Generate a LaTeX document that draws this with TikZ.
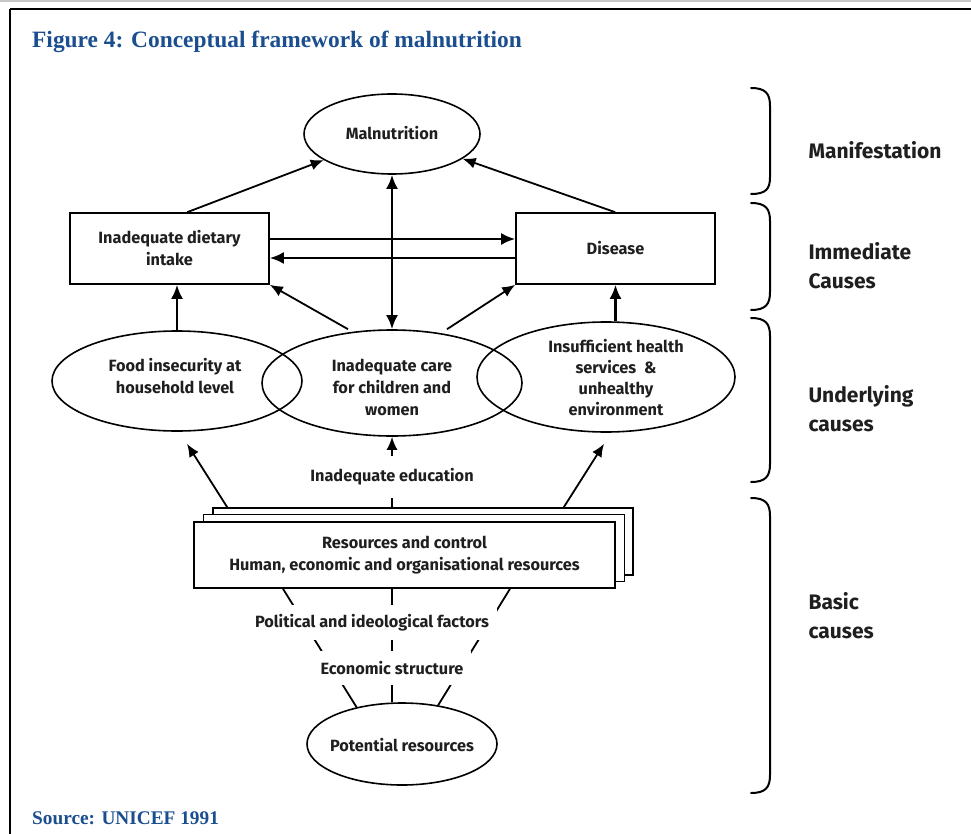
\documentclass[tikz,border=0pt]{standalone}
\usepackage{fontspec}
\setmainfont{Fira Sans}
\newfontfamily\titlefont{Liberation Serif}
\usetikzlibrary{shapes.geometric,arrows.meta}
\definecolor{figblue}{RGB}{26,78,143}
\begin{document}
\begin{tikzpicture}[x=1pt,y=-1pt,
  txt/.style={font=\bfseries\fontsize{16.3}{22}\selectfont, align=center, text=black!88},
  ell/.style={ellipse, draw, line width=1.6pt, inner sep=0pt},
  box/.style={rectangle, draw, line width=1.6pt, fill=white, inner sep=0pt},
  arr/.style={line width=1.8pt, -{Latex[length=13pt,width=11pt]}},
  thickarr/.style={line width=2.6pt, -{Latex[length=14pt,width=12pt]}},
  dblarr/.style={line width=2.6pt, {Latex[length=14pt,width=12pt]}-{Latex[length=14pt,width=12pt]}},
  fan/.style={line width=1.8pt},
  gaplbl/.style={txt, fill=white, inner xsep=8pt, inner ysep=0pt},
  level/.style={font=\bfseries\fontsize{21}{29}\selectfont, align=left, anchor=west, text=black!88},
  brace/.style={line width=2pt, line cap=round},
  heading/.style={font=\titlefont\bfseries, text=figblue, inner sep=0pt, anchor=base west}
]
\useasboundingbox (0,0) rectangle (971,834);
\fill[white] (0,0) rectangle (971,834);

% page frame
\draw[gray!45, line width=2pt] (0,1) -- (971,1);
\draw[line width=1.4pt] (10,9) -- (971,9);
\draw[line width=1.4pt] (10,9) -- (10,834);

% headings
\node[heading, font=\titlefont\bfseries\fontsize{23.4}{27}\selectfont] (title) at (32,48)
  {Figure 4: Conceptual framework of malnutrition};
\node[heading, font=\titlefont\bfseries\fontsize{19.3}{22}\selectfont] (source) at (32,824)
  {Source: UNICEF 1991};

% manifestation
\node[ell, minimum width=176, minimum height=80] (mal) at (392,134) {};
\node[txt] (maltxt) at (392,133) {Malnutrition};

% immediate causes
\node[box, txt, minimum width=199, minimum height=71] (diet) at (169.5,248.5)
  {Inadequate dietary\\intake};
\node[box, txt, minimum width=199, minimum height=71] (dis) at (615.5,248.5) {Disease};

% underlying causes
\node[ell, minimum width=250, minimum height=100] (food) at (177,381) {};
\node[ell, minimum width=260, minimum height=106] (care) at (392,383) {};
\node[ell, minimum width=258, minimum height=110] (health) at (606,377) {};
\node[txt] (foodtxt) at (175,376) {Food insecurity at\\household level};
\node[txt] (caretxt) at (392,387) {Inadequate care\\for children and\\women};
\node[txt, font=\bfseries\fontsize{16.3}{21}\selectfont] (healthtxt) at (616,378)
  {Insufficient health\\services \ \& \\unhealthy\\environment};

% basic causes: stacked resource boxes
\node[box, minimum width=420, minimum height=67] (res3) at (423,541.5) {};
\node[box, minimum width=421, minimum height=67] (res2) at (414,548) {};
\node[box, txt, minimum width=421, minimum height=66] (res) at (404.5,555)
  {Resources and control\\Human, economic and organisational resources};
\node[ell, minimum width=190, minimum height=82] (pot) at (402,744) {};
\node[txt] (pottxt) at (402,745) {Potential resources};

% connectors towards malnutrition
\draw[arr] ([xshift=118]diet.north west) -- (mal);
\draw[arr] ([xshift=100]dis.north west) -- (mal);
\draw[dblarr] (care.north) -- (mal.south);
\draw[thickarr] ([yshift=9.5]diet.east) -- ([yshift=9.5]dis.west);
\draw[thickarr] ([yshift=-9.5]dis.west) -- ([yshift=-9.5]diet.east);

% underlying to immediate
\draw[thickarr] (food.north) -- (food.north |- diet.south);
\draw[thickarr] (dis.south |- health.north) -- (dis.south);
\draw[arr] ([xshift=-44]care.north) -- (diet.south east);
\draw[arr] ([xshift=55]care.north) -- (dis.south west);

% basic to underlying
\draw[arr] ([xshift=15]res3.north west) -- ([xshift=10,yshift=-12]food.south);
\draw[arr] (care.south |- res3.north) -- (care.south);
\draw[arr] ([xshift=-70]res3.north east) -- ([xshift=-2,yshift=-11]health.south);

% potential resources up to the resource boxes
\draw[fan] ([xshift=-121.5]res.south) -- (pot.141);
\draw[fan] ([xshift=-12.5]res.south) -- ([xshift=-10]pot.north);
\draw[fan] ([xshift=105.5]res.south) -- (pot.47);

% labels sitting on the connectors
\node[gaplbl, minimum height=42] (edu) at (392,477) {Inadequate education};
\node[gaplbl, minimum height=35] (pol) at (372,622.5) {Political and ideological factors};
\node[gaplbl, minimum height=34] (eco) at (392,668) {Economic structure};

% level braces
\draw[brace] (751,88) .. controls (766,88) and (770,94) .. (770,106) -- (770,177)
  .. controls (770,189) and (766,194) .. (751,194);
\draw[brace] (751,203) .. controls (766,203) and (770,209) .. (770,221) -- (770,292)
  .. controls (770,304) and (766,310) .. (751,310);
\draw[brace] (751,318) .. controls (766,318) and (770,324) .. (770,336) -- (770,464)
  .. controls (770,476) and (766,482) .. (751,482);
\draw[brace] (751,498) .. controls (766,498) and (770,504) .. (770,516) -- (770,775)
  .. controls (770,787) and (766,793) .. (751,793);

% level names
\node[level] (lvl1) at (805,150) {Manifestation};
\node[level] (lvl2) at (805,265.5) {Immediate\\Causes};
\node[level] (lvl3) at (805,408.5) {Underlying\\causes};
\node[level] (lvl4) at (805,615.5) {Basic\\causes};
\end{tikzpicture}
\end{document}
